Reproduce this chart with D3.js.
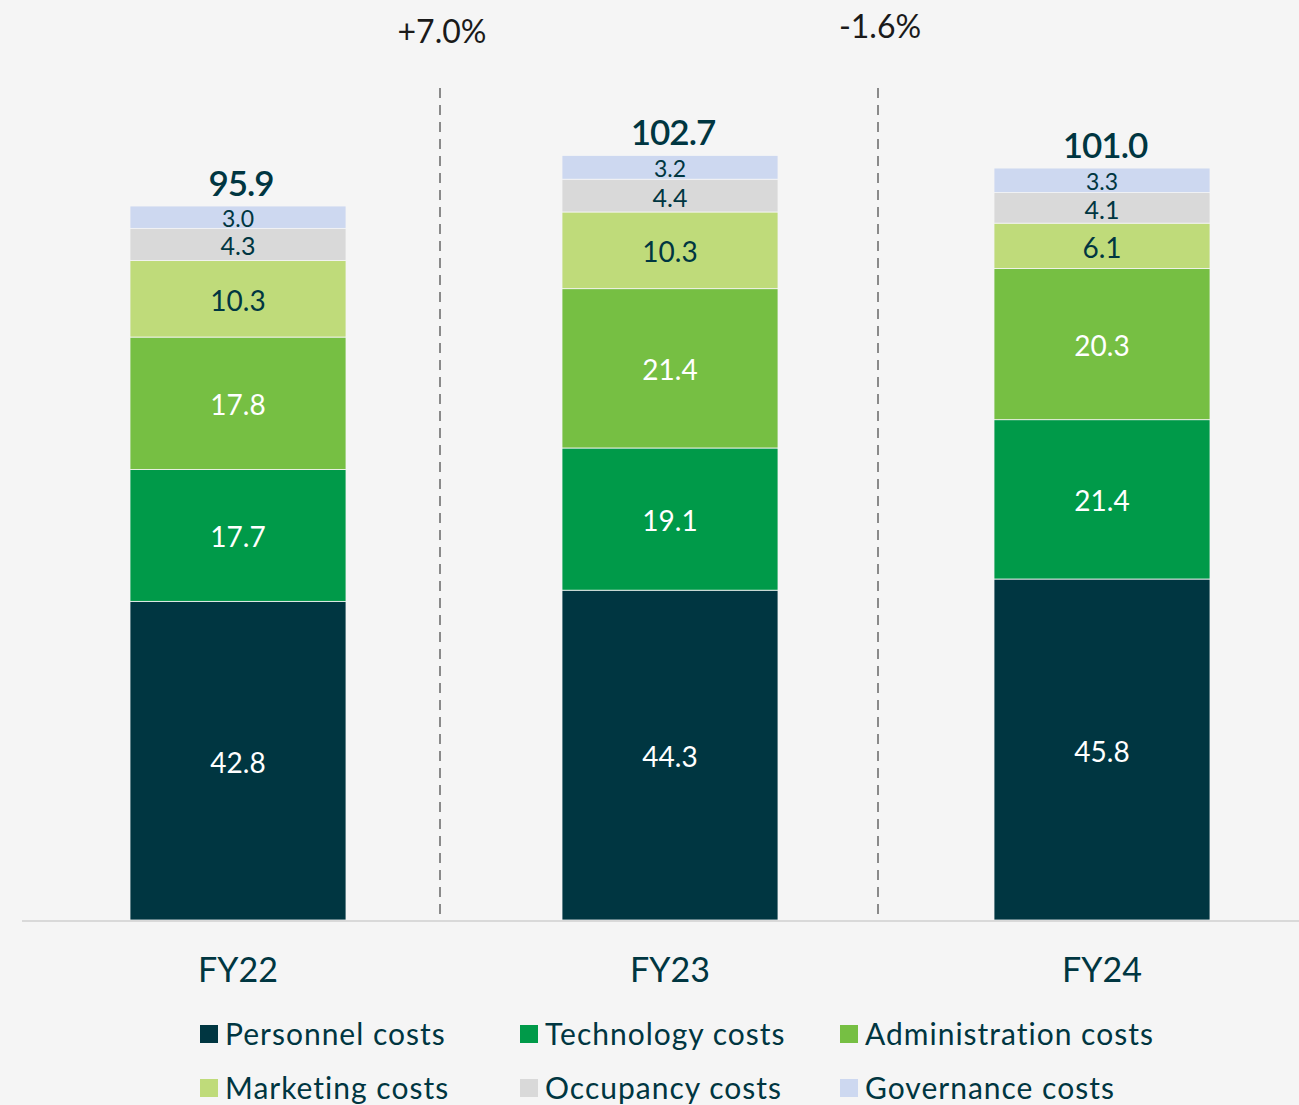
<!DOCTYPE html>
<html>
<head>
<meta charset="utf-8">
<script src="https://cdn.jsdelivr.net/npm/d3@7"></script>
<style>
  html, body { margin: 0; padding: 0; background: #f5f5f5; }
  svg { display: block; }
  text { font-family: "Lato", "Open Sans", sans-serif; }
</style>
</head>
<body>
<svg id="chart" width="1299" height="1105"></svg>
<script>
const categories = ["FY22", "FY23", "FY24"];
const seriesNames = ["Personnel costs", "Technology costs", "Administration costs", "Marketing costs", "Occupancy costs", "Governance costs"];
const personnel = [42.8, 44.3, 45.8];
const technology = [17.7, 19.1, 21.4];
const administration = [17.8, 21.4, 20.3];
const marketing = [10.3, 10.3, 6.1];
const occupancy = [4.3, 4.4, 4.1];
const governance = [3.0, 3.2, 3.3];
const totals = ["95.9", "102.7", "101.0"];
const changes = ["+7.0%", "-1.6%"];

const colors = ["#003641", "#009a49", "#76bf43", "#bfdb7a", "#d9d9d9", "#cdd8f0"];
const labelColors = ["#ffffff", "#ffffff", "#ffffff", "#003641", "#003641", "#003641"];
const labelSizes = [28, 28, 28, 28, 25, 23];

const series = [personnel, technology, administration, marketing, occupancy, governance];
const rows = categories.map((c, i) => {
  const r = { cat: c };
  seriesNames.forEach((s, j) => r[s] = series[j][i]);
  return r;
});

const svg = d3.select("#chart");
svg.append("rect").attr("width", 1299).attr("height", 1105).attr("fill", "#f5f5f5");

const x = d3.scaleBand().domain(categories).range([22, 1318]).paddingInner(0.5).paddingOuter(0.25);
const y = d3.scaleLinear().domain([0, 100]).range([920, 920 - 744.5]);

const stack = d3.stack().keys(seriesNames)(rows);

// bars
stack.forEach((layer, j) => {
  const g = svg.append("g");
  g.selectAll("rect").data(layer).join("rect")
    .attr("x", d => x(d.data.cat))
    .attr("width", x.bandwidth())
    .attr("y", d => y(d[1]))
    .attr("height", d => y(d[0]) - y(d[1]))
    .attr("fill", colors[j])
    .attr("stroke", "#f5f5f5")
    .attr("stroke-width", 0.8);
  g.selectAll("text").data(layer).join("text")
    .attr("x", d => x(d.data.cat) + x.bandwidth() / 2)
    .attr("y", d => (y(d[0]) + y(d[1])) / 2 + 1)
    .attr("text-anchor", "middle")
    .attr("dominant-baseline", "central")
    .attr("fill", labelColors[j])
    .attr("font-size", labelSizes[j])
    .text(d => (d[1] - d[0]).toFixed(1));
});

// axis baseline
svg.append("line")
  .attr("x1", 22).attr("x2", 1299)
  .attr("y1", y(0) + 1).attr("y2", y(0) + 1)
  .attr("stroke", "#d9d9d9").attr("stroke-width", 2);

// category labels
svg.append("g").selectAll("text").data(categories).join("text")
  .attr("x", d => x(d) + x.bandwidth() / 2)
  .attr("y", y(0) + 62)
  .attr("text-anchor", "middle")
  .attr("fill", "#003641")
  .attr("font-size", 34)
  .text(d => d);

// totals
svg.append("g").selectAll("text").data(rows).join("text")
  .attr("x", d => x(d.cat) + x.bandwidth() / 2 + 3)
  .attr("y", (d, i) => y(d3.sum(series, s => s[i])) - 10)
  .attr("text-anchor", "middle")
  .attr("fill", "#003641")
  .attr("font-size", 35)
  .attr("font-weight", 600)
  .attr("letter-spacing", -1)
  .text((d, i) => totals[i]);

// dashed dividers and change labels
const divOffsets = [-14, -8];
changes.forEach((c, i) => {
  const xm = (x(categories[i]) + x.bandwidth() + x(categories[i + 1])) / 2 + divOffsets[i];
  svg.append("line")
    .attr("x1", xm).attr("x2", xm)
    .attr("y1", 88).attr("y2", y(0))
    .attr("stroke", "#8a8a8a").attr("stroke-width", 2)
    .attr("stroke-dasharray", "10,7");
  svg.append("text")
    .attr("x", xm + 2)
    .attr("y", i === 0 ? 43 : 38)
    .attr("text-anchor", "middle")
    .attr("fill", "#1a1a1a")
    .attr("font-size", 32)
    .text(c);
});

// legend
const legX = [200, 520, 840];
const legY = [1025, 1079];
const leg = svg.append("g");
seriesNames.forEach((s, j) => {
  const col = j % 3, row = Math.floor(j / 3);
  leg.append("rect")
    .attr("x", legX[col]).attr("y", legY[row])
    .attr("width", 18).attr("height", 18)
    .attr("fill", colors[j]);
  leg.append("text")
    .attr("x", legX[col] + 25).attr("y", legY[row] + 20)
    .attr("fill", "#003641")
    .attr("font-size", 30)
    .attr("letter-spacing", 1)
    .text(s);
});
</script>
</body>
</html>
